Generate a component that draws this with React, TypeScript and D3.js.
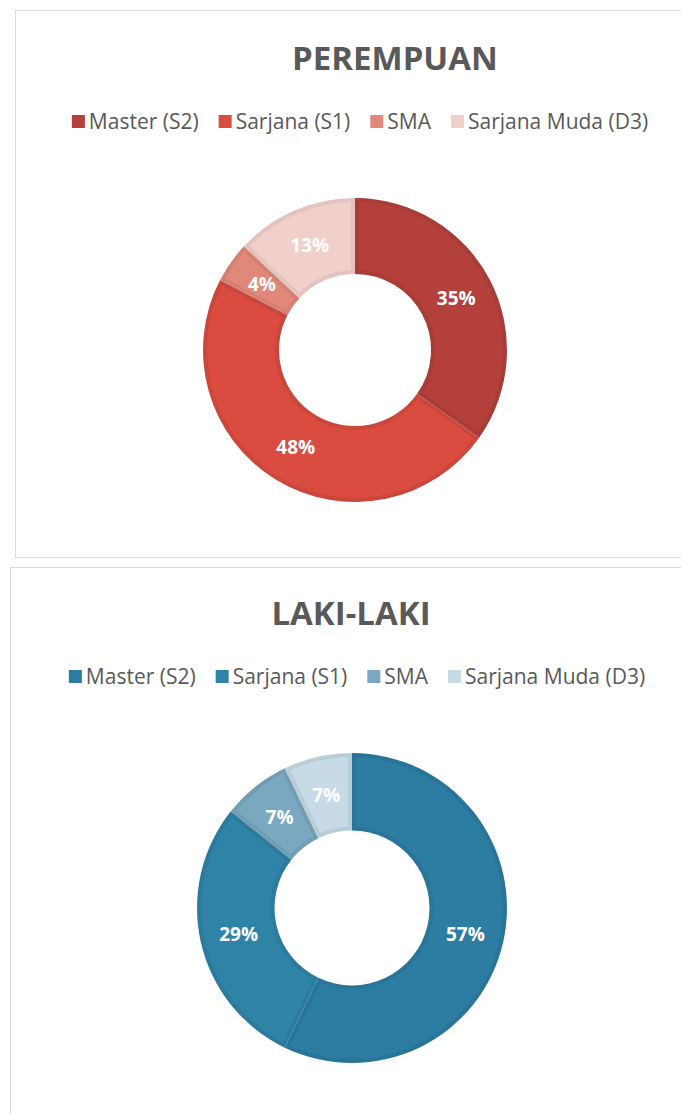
import React, { useEffect, useRef } from 'react';
import * as d3 from 'd3';

const categories = ['Master (S2)', 'Sarjana (S1)', 'SMA', 'Sarjana Muda (D3)'];
const perempuanValues = [8, 11, 1, 3];
const lakiValues = [8, 4, 1, 1];
const perempuanColors = ['#b3403b', '#d94c3f', '#e2887b', '#f1d0cb'];
const lakiColors = ['#2c7da1', '#2f83a7', '#7aa8c0', '#c6dbe5'];

const charts = [
  { title: 'PEREMPUAN', values: perempuanValues, colors: perempuanColors, cx: 355, cy: 350, ro: 152, titleX: 395, titleY: 70, legendY: 129, legendX: 360 },
  { title: 'LAKI-LAKI', values: lakiValues, colors: lakiColors, cx: 352, cy: 908, ro: 155, titleX: 351, titleY: 625, legendY: 684, legendX: 357 },
];

export default function App() {
  const ref = useRef<SVGSVGElement | null>(null);
  useEffect(() => {
    const svg = d3.select(ref.current);
    svg.selectAll('*').remove();
    svg.append('rect').attr('width', 681).attr('height', 1114).attr('fill', '#ffffff');
    svg.append('rect').attr('x', 15.5).attr('y', 10.5).attr('width', 700).attr('height', 547).attr('fill', 'none').attr('stroke', '#dcdcdc');
    svg.append('rect').attr('x', 10.5).attr('y', 567.5).attr('width', 700).attr('height', 600).attr('fill', 'none').attr('stroke', '#dcdcdc');

    charts.forEach((c) => {
      const g = svg.append('g');
      const ri = c.ro * 0.5;
      const total = d3.sum(c.values);
      const pie = d3.pie<number>().sort(null).value((d) => d);
      const arcs = pie(c.values);
      const outerArc = d3.arc<d3.PieArcDatum<number>>().innerRadius(ri).outerRadius(c.ro);
      const innerArc = d3.arc<d3.PieArcDatum<number>>().innerRadius(ri + 4).outerRadius(c.ro - 4).padAngle(8 / c.ro).padRadius(c.ro);
      const dg = g.append('g').attr('transform', `translate(${c.cx},${c.cy})`);
      dg.selectAll('path.o').data(arcs).enter().append('path').attr('class', 'o')
        .attr('d', outerArc as any)
        .attr('fill', (d, i) => (d3.color(c.colors[i]) as d3.RGBColor).darker(0.18).formatHex());
      dg.selectAll('path.i').data(arcs).enter().append('path').attr('class', 'i')
        .attr('d', innerArc as any)
        .attr('fill', (d, i) => c.colors[i]);
      dg.selectAll('text').data(arcs).enter().append('text')
        .attr('transform', (d) => `translate(${outerArc.centroid(d)})`)
        .attr('text-anchor', 'middle').attr('dominant-baseline', 'central')
        .attr('font-family', '"Open Sans", sans-serif').attr('font-weight', 'bold').attr('font-size', 19)
        .attr('fill', '#ffffff')
        .text((d) => `${Math.round((d.data / total) * 100)}%`);

      g.append('text').attr('x', c.titleX).attr('y', c.titleY).attr('text-anchor', 'middle')
        .attr('font-family', '"Open Sans", sans-serif').attr('font-weight', 'bold').attr('font-size', 33)
        .attr('fill', '#595959').text(c.title);

      const lg = g.append('g');
      const items = categories.map((name, i) => {
        const it = lg.append('g');
        it.append('rect').attr('x', 0).attr('y', -14).attr('width', 13).attr('height', 13).attr('fill', c.colors[i]);
        const t = it.append('text').attr('x', 17).attr('y', 0)
          .attr('font-family', '"Open Sans", sans-serif').attr('font-size', 21)
          .attr('fill', '#595959').text(name);
        const w = 17 + (t.node() as SVGTextElement).getComputedTextLength();
        return { it, w };
      });
      const gap = 20;
      const totalW = d3.sum(items, (d) => d.w) + gap * (items.length - 1);
      let x = c.legendX - totalW / 2;
      items.forEach((d) => {
        d.it.attr('transform', `translate(${x},${c.legendY})`);
        x += d.w + gap;
      });
    });
  }, []);
  return (
    <svg ref={ref} width={681} height={1114} style={{ position: 'absolute', left: 0, top: 0, display: 'block' }} />
  );
}
